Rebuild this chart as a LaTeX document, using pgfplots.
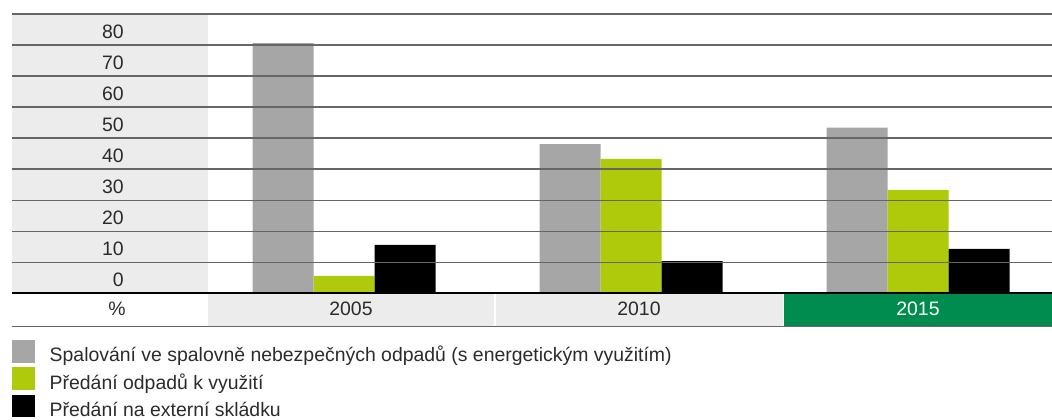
\documentclass[border=0pt]{standalone}
\usepackage{fontspec}
\setmainfont{Liberation Sans}
\usepackage{pgfplots}
\pgfplotsset{compat=1.18}
\definecolor{bargray}{HTML}{A6A6A6}
\definecolor{bargreen}{HTML}{AFCA0B}
\definecolor{cellgray}{HTML}{ECECEC}
\definecolor{cellgreen}{HTML}{008C4F}
\definecolor{gridgray}{HTML}{666666}
\definecolor{txt}{HTML}{2B2B2B}
\begin{document}
\begin{tikzpicture}[x=1bp,y=1bp]
\useasboundingbox (0,0) rectangle (1052,419);
\begin{axis}[
  at={(12bp,125.7bp)}, anchor=south west,
  scale only axis, width=1040bp, height=279.3bp,
  xmin=-1.1568, xmax=2.4669, ymin=0, ymax=90,
  clip=false, axis on top,
  axis line style={draw=none},
  major tick length=0pt,
  ybar=0pt, bar width=0.21254,
  font=\fontsize{19.5}{22}\selectfont,
  ytick={5,15,...,85}, yticklabels={0,10,20,30,40,50,60,70,80},
  yticklabel style={anchor=east, inner sep=0pt, xshift=112bp, yshift=-1.8bp, text=txt},
  xtick={-0.7909,0.02439,1.02787,2.0},
  xticklabels={\%,2005,2010,\textcolor{white}{2015}},
  xticklabel style={anchor=center, inner sep=0pt, yshift=-15.4bp, text=txt},
  legend cell align=left,
  legend style={at={(rel axis cs:0,0)}, anchor=north west, yshift=-46.7bp,
    draw=none, fill=none, inner sep=0pt, outer sep=0pt, row sep=1.6bp,
    nodes={inner sep=0pt, anchor=base west, text height=14bp, text depth=4bp, text=txt},
    /tikz/every odd column/.append style={column sep=15bp}},
]
% background cells
\fill[cellgray] (axis cs:-1.1568,0) rectangle (axis cs:-0.4739,90);
\fill[cellgray] (axis cs:-0.4739,-10.76) rectangle (axis cs:0.5237,0);
\fill[cellgray] (axis cs:0.5286,-10.76) rectangle (axis cs:1.5296,0);
\fill[cellgreen] (axis cs:1.5331,-10.76) rectangle (axis cs:2.4669,0);

\addplot[fill=bargray, draw=none,
  legend image code/.code={\fill[bargray] (0bp,-1bp) rectangle (22.7bp,21.7bp);}]
  coordinates {(0,80.6) (1,48.1) (2,53.4)};
\addplot[fill=bargreen, draw=none,
  legend image code/.code={\fill[bargreen] (0bp,-1bp) rectangle (22.7bp,21.7bp);}]
  coordinates {(0,5.6) (1,43.3) (2,33.3)};
\addplot[fill=black, draw=none,
  legend image code/.code={\fill[black] (0bp,-1bp) rectangle (22.7bp,21.7bp);}]
  coordinates {(0,15.6) (1,10.4) (2,14.3)};
\legend{Spalování ve spalovně nebezpečných odpadů (s energetickým využitím),
  Předání odpadů k využití, Předání na externí skládku}

% grid lines on top of bars
\pgfplotsinvokeforeach{10,20,...,90}{
  \draw[gridgray, line width=1.4bp] (axis cs:-1.1568,#1) -- (axis cs:2.4669,#1);
}
\draw[black, line width=2.2bp] (axis cs:-1.1568,0) -- (axis cs:2.4669,0);
\draw[gridgray, line width=1.1bp] (axis cs:-1.1568,-10.76) -- (axis cs:2.4669,-10.76);
\end{axis}
\end{tikzpicture}
\end{document}
